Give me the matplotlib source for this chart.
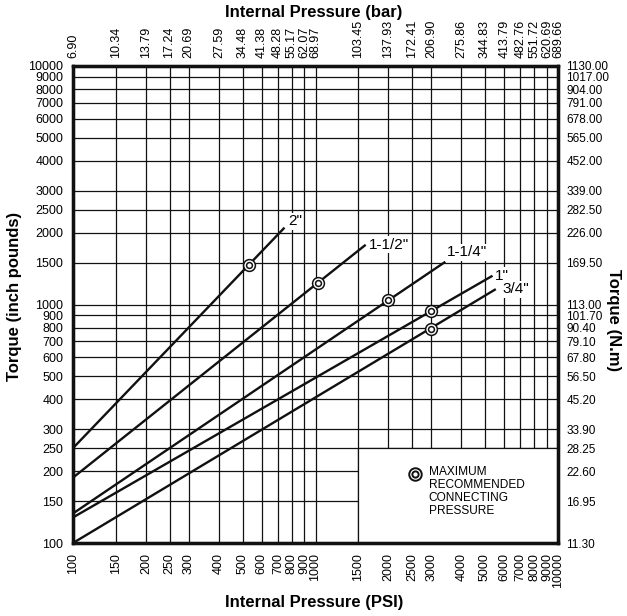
import matplotlib
matplotlib.use("Agg")
import matplotlib.pyplot as plt
from matplotlib.ticker import NullLocator, FixedLocator, FixedFormatter
from matplotlib.patches import Rectangle

plt.rcParams['font.family'] = ['Liberation Sans', 'DejaVu Sans']

# ──────────────────────────────────────────────
# DATA
# ──────────────────────────────────────────────
psi_ticks = [100, 150, 200, 250, 300, 400, 500, 600, 700, 800, 900, 1000,
             1500, 2000, 2500, 3000, 4000, 5000, 6000, 7000, 8000, 9000, 10000]
bar_labels = ["6.90", "10.34", "13.79", "17.24", "20.69", "27.59", "34.48",
              "41.38", "48.28", "55.17", "62.07", "68.97", "103.45", "137.93",
              "172.41", "206.90", "275.86", "344.83", "413.79", "482.76",
              "551.72", "620.69", "689.66"]
torque_ticks = [100, 150, 200, 250, 300, 400, 500, 600, 700, 800, 900, 1000,
                1500, 2000, 2500, 3000, 4000, 5000, 6000, 7000, 8000, 9000, 10000]
nm_labels = ["11.30", "16.95", "22.60", "28.25", "33.90", "45.20", "56.50",
             "67.80", "79.10", "90.40", "101.70", "113.00", "169.50", "226.00",
             "282.50", "339.00", "452.00", "565.00", "678.00", "791.00",
             "904.00", "1017.00", "1130.00"]

sizes = ['2"', '1-1/2"', '1-1/4"', '1"', '3/4"']
psi_start = [100, 100, 100, 100, 100]
torque_start = [250, 188, 133, 128, 100]
psi_end = [745, 1610, 3430, 5370, 5540]
torque_end = [2100, 1780, 1510, 1320, 1160]
max_psi = [530, 1020, 2000, 3000, 3000]
max_torque = [1470, 1230, 1040, 940, 790]

# label offsets (points) from line end
label_offsets = [(2.5, 4.7), (2, 0), (1, 7), (2, 0), (5, 0)]

INK = '#111111'

# ──────────────────────────────────────────────
# FIGURE
# ──────────────────────────────────────────────
fig = plt.figure(figsize=(6.27, 6.16), dpi=100)
ax = fig.add_axes([73 / 627, 73 / 616, 485 / 627, 477 / 616])
ax.set_xscale('log')
ax.set_yscale('log')
ax.set_xlim(psi_ticks[0], psi_ticks[-1])
ax.set_ylim(torque_ticks[0], torque_ticks[-1])

ax.xaxis.set_major_locator(FixedLocator(psi_ticks))
ax.xaxis.set_major_formatter(FixedFormatter([str(v) for v in psi_ticks]))
ax.xaxis.set_minor_locator(NullLocator())
ax.yaxis.set_major_locator(FixedLocator(torque_ticks))
ax.yaxis.set_major_formatter(FixedFormatter([str(v) for v in torque_ticks]))
ax.yaxis.set_minor_locator(NullLocator())
ax.tick_params(axis='x', length=0, labelsize=9, labelrotation=90, pad=7)
ax.tick_params(axis='y', length=0, labelsize=9, pad=7)

ax.set_axisbelow(True)
ax.grid(True, color=INK, lw=0.9)

# white "legend" panel cuts the grid in the bottom right corner
ax.add_patch(Rectangle((1500, 100), 10000 - 1500, 250 - 100, facecolor='white',
                       edgecolor=INK, lw=0.9, zorder=1))

for i in range(len(sizes)):
    ax.plot([psi_start[i], psi_end[i]], [torque_start[i], torque_end[i]],
            color=INK, lw=1.7, zorder=3, solid_capstyle='butt')
    ax.plot(max_psi[i], max_torque[i], 'o', ms=8.5, mfc='white', mec=INK,
            mew=1.1, zorder=4)
    ax.plot(max_psi[i], max_torque[i], 'o', ms=4.2, mfc='none', mec=INK,
            mew=1.1, zorder=5)
    ax.annotate(sizes[i], (psi_end[i], torque_end[i]), xytext=label_offsets[i],
                textcoords='offset points', ha='left', va='center', fontsize=11,
                bbox=dict(boxstyle='square,pad=0.1', fc='white', ec='none'),
                zorder=6)

# legend marker and text
ax.plot(0.705, 0.145, 'o', ms=9, mfc='white', mec=INK, mew=1.4,
        transform=ax.transAxes, zorder=5)
ax.plot(0.705, 0.145, 'o', ms=4.5, mfc='none', mec=INK, mew=1.4,
        transform=ax.transAxes, zorder=5)
ax.text(0.733, 0.161, "MAXIMUM\nRECOMMENDED\nCONNECTING\nPRESSURE",
        transform=ax.transAxes, ha='left', va='top', fontsize=8.6,
        linespacing=1.12, zorder=6)

# top axis (bar)
ax_top = ax.twiny()
ax_top.set_xscale('log')
ax_top.set_xlim(ax.get_xlim())
ax_top.xaxis.set_major_locator(FixedLocator(psi_ticks))
ax_top.xaxis.set_major_formatter(FixedFormatter(bar_labels))
ax_top.xaxis.set_minor_locator(NullLocator())
ax_top.tick_params(axis='x', length=0, labelsize=9, labelrotation=90, pad=6)

# right axis (N.m)
ax_right = ax.twinx()
ax_right.set_yscale('log')
ax_right.set_ylim(ax.get_ylim())
ax_right.yaxis.set_major_locator(FixedLocator(torque_ticks))
ax_right.yaxis.set_major_formatter(FixedFormatter(nm_labels))
ax_right.yaxis.set_minor_locator(NullLocator())
ax_right.tick_params(axis='y', length=0, labelsize=8.5, pad=6)

for a in (ax, ax_top, ax_right):
    for sp in a.spines.values():
        sp.set_linewidth(2.3)
        sp.set_color(INK)

fig.text(314 / 627, 1 - 12 / 616, "Internal Pressure (bar)", ha='center',
         va='center', fontsize=12, fontweight='bold')
fig.text(314 / 627, 1 - 602 / 616, "Internal Pressure (PSI)", ha='center',
         va='center', fontsize=12, fontweight='bold')
fig.text(15 / 627, 1 - 296 / 616, "Torque (inch pounds)", ha='center',
         va='center', rotation=90, fontsize=12, fontweight='bold')
fig.text(613 / 627, 1 - 320 / 616, "Torque (N.m)", ha='center',
         va='center', rotation=270, fontsize=12, fontweight='bold')

fig.savefig("out.png", dpi=100)
